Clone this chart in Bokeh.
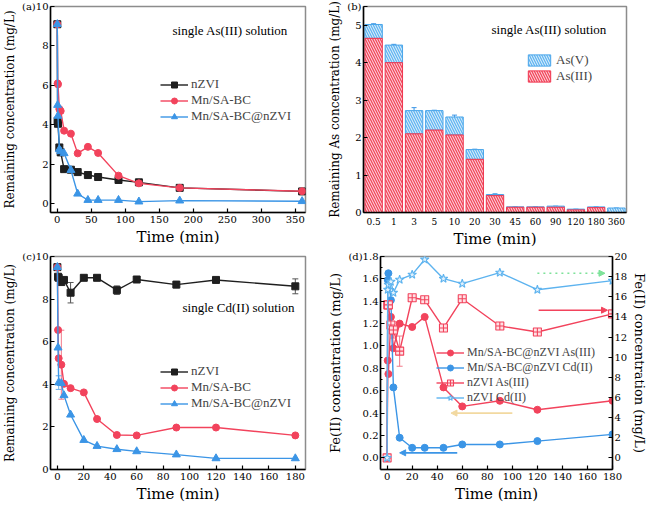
from bokeh.plotting import figure
from bokeh.models import (Range1d, LinearAxis, Label, Whisker, ColumnDataSource, Arrow,
                          NormalHead, FactorRange, TeeHead, FixedTicker)
from bokeh.layouts import column, row
from bokeh.embed import file_html
from bokeh.resources import INLINE

FONT = "Liberation Serif"
AXFONT = "DejaVu Serif"
BLACK = "#1f1f1f"
RED = "#f2435c"
BLUE = "#3b95e6"
LBLUE = "#5db3ef"

# ---------- (a) single As(III) solution ----------
t_a = [0, 0.5, 1, 3, 5, 10, 20, 30, 45, 60, 90, 120, 180, 360]
a_nzvi = [9.1, 4.2, 4.05, 2.85, 2.6, 1.75, 1.72, 1.6, 1.45, 1.35, 1.2, 1.08, 0.8, 0.62]
a_mn = [9.1, 6.1, 6.05, 4.8, 4.7, 3.7, 3.55, 2.55, 2.88, 2.57, 1.42, 1.03, 0.8, 0.63]
a_mnz = [9.1, 5.0, 4.45, 2.75, 2.65, 2.55, 1.7, 0.5, 0.18, 0.18, 0.18, 0.1, 0.15, 0.12]

# ---------- (b) As speciation ----------
b_times = ["0.5", "1", "3", "5", "10", "20", "30", "45", "60", "90", "120", "180", "360"]
b_as3 = [4.65, 4.0, 2.1, 2.2, 2.07, 1.42, 0.45, 0.14, 0.14, 0.14, 0.07, 0.13, 0.0]
b_as5 = [0.37, 0.47, 0.62, 0.52, 0.48, 0.26, 0.03, 0.01, 0.01, 0.03, 0.02, 0.02, 0.12]
b_err = [0.02, 0.02, 0.08, 0.01, 0.05, 0.01, 0.02, 0.0, 0.0, 0.0, 0.0, 0.0, 0.0]

# ---------- (c) single Cd(II) solution ----------
t_c = [0, 0.5, 1, 3, 5, 10, 20, 30, 45, 60, 90, 120, 180]
c_nzvi = [9.5, 9.05, 9.0, 8.8, 8.9, 8.3, 9.0, 9.0, 8.42, 8.92, 8.68, 8.9, 8.6]
c_nzvi_err = [0, 0, 0, 0.05, 0.05, 0.48, 0, 0, 0.2, 0.05, 0.15, 0, 0.35]
c_mn = [9.5, 6.55, 5.22, 4.92, 4.02, 3.82, 3.62, 2.37, 1.62, 1.6, 1.97, 1.97, 1.6]
c_mn_err = [0, 0, 0, 1.62, 0, 0, 0, 0, 0, 0, 0, 0, 0]
c_mnz = [9.5, 5.72, 4.08, 4.05, 3.48, 2.57, 1.38, 1.1, 0.95, 0.85, 0.7, 0.52, 0.52]
c_mnz_err = [0, 0, 0.32, 0, 0, 0, 0, 0, 0, 0, 0, 0, 0]

# ---------- (d) Fe(II) concentration ----------
t_d = [0, 0.5, 1, 3, 5, 10, 20, 30, 45, 60, 90, 120, 180]
d_mnz_as = [0.0, 0.87, 0.75, 1.26, 0.98, 1.2, 1.17, 1.26, 0.63, 0.46, 0.51, 0.43, 0.51]      # left axis
d_mnz_cd = [0.0, 1.59, 1.65, 1.41, 0.63, 0.18, 0.09, 0.09, 0.09, 0.12, 0.12, 0.15, 0.21]     # left axis
d_nzvi_as = [0.0, 15.2, 15.2, 13.2, 12.7, 10.6, 15.9, 15.7, 12.9, 15.8, 13.1, 12.5, 14.3]    # right axis
d_nzvi_as_err = [0, 0, 0, 0, 0.8, 1.5, 0, 0, 0, 0, 0, 0, 0]
d_nzvi_cd = [0.0, 16.7, 17.2, 17.5, 16.4, 17.7, 18.2, 19.7, 17.8, 17.3, 18.4, 16.7, 17.6]    # right axis

# arrows (left-axis units): x_start, x_end, y, colour, dash
arrows = [
    (120, 174, 1.65, "#7ee29a", "dotted"),
    (121, 176, 1.32, RED, "solid"),
    (100, 51, 0.40, "#f2d9a0", "solid"),
    (56, 10, 0.045, BLUE, "solid"),
]


def style(p, minor=False, ylab="12px"):
    p.outline_line_color = "#8c8c8c"
    p.outline_line_width = 1.5
    p.xgrid.visible = False
    p.ygrid.visible = False
    p.background_fill_color = "white"
    p.border_fill_color = "white"
    for ax in p.axis:
        ax.axis_line_width = 1.5
        ax.axis_line_color = "black"
        ax.major_tick_in = 4
        ax.major_tick_out = 0
        ax.major_tick_line_width = 1.2
        if minor:
            ax.minor_tick_in = 2
            ax.minor_tick_out = 0
        else:
            ax.minor_tick_line_color = None
        ax.major_label_text_font = AXFONT
        ax.major_label_text_font_size = "10px"
        ax.major_label_text_font_style = "normal"
        ax.major_label_text_color = "black"
        ax.axis_label_text_font = AXFONT
        ax.axis_label_text_font_size = ylab
        ax.axis_label_text_font_style = "normal"
        ax.axis_label_text_color = "black"
        ax.major_label_standoff = 2
        ax.axis_label_standoff = 2
    for ax in p.xaxis:
        ax.axis_label_text_font_size = "15px"
        ax.major_label_standoff = 3


def style_legend(lg, x, y, size="13px"):
    lg.location = (x, y)
    lg.background_fill_alpha = 0
    lg.border_line_color = None
    lg.label_text_font = FONT
    lg.label_text_font_size = size
    lg.label_height = 15
    lg.glyph_height = 15
    lg.glyph_width = 28
    lg.spacing = 0
    lg.padding = 2
    lg.margin = 0
    lg.label_standoff = 3


def note(p, text, x, y):
    p.add_layout(Label(x=x, y=y, x_units="screen", y_units="data", text=text,
                       text_font=FONT, text_font_size="13px", text_baseline="middle",
                       text_color="black"))


def errbars(p, x, y, e, color, **kw):
    xs = [xi for xi, ei in zip(x, e) if ei > 0]
    lo = [yi - ei for yi, ei in zip(y, e) if ei > 0]
    hi = [yi + ei for yi, ei in zip(y, e) if ei > 0]
    src = ColumnDataSource(dict(x=xs, lo=lo, hi=hi))
    p.add_layout(Whisker(source=src, base="x", lower="lo", upper="hi", line_color=color,
                         line_width=1,
                         upper_head=TeeHead(size=6, line_color=color, line_width=1),
                         lower_head=TeeHead(size=6, line_color=color, line_width=1), **kw))


# ================= (a) =================
pa = figure(width=325, height=250, x_range=Range1d(-10, 365), y_range=Range1d(-0.45, 10),
            output_backend="svg", toolbar_location=None,
            min_border_top=6, min_border_bottom=38, min_border_left=10, min_border_right=20)
pa.xaxis.axis_label = "Time (min)"
pa.yaxis.axis_label = "Remaining concentration (mg/L)"
pa.xaxis.ticker = FixedTicker(ticks=[0, 50, 100, 150, 200, 250, 300, 350])
pa.yaxis.ticker = FixedTicker(ticks=[0, 2, 4, 6, 8, 10])
pa.yaxis.major_label_overrides = {10: "(a)10"}
for ys, c, m, lab in [(a_nzvi, BLACK, "square", "nZVI"), (a_mn, RED, "circle", "Mn/SA-BC"),
                      (a_mnz, BLUE, "triangle", "Mn/SA-BC@nZVI")]:
    pa.line(t_a, ys, line_color=c, line_width=1.4, legend_label=lab)
    pa.scatter(t_a, ys, marker=m, size=7 if m != "triangle" else 8, color=c, legend_label=lab)
style(pa)
style_legend(pa.legend[0], 110, 88)
note(pa, "single As(III) solution", 122, 8.8)

# ================= (b) =================
tot = [a + b for a, b in zip(b_as3, b_as5)]
src_b = ColumnDataSource(dict(t=b_times, as3=b_as3, tot=tot,
                              lo=[v - e for v, e in zip(tot, b_err)],
                              hi=[v + e for v, e in zip(tot, b_err)]))
pb = figure(width=325, height=250, x_range=FactorRange(*b_times), y_range=Range1d(0, 5.5),
            output_backend="svg", toolbar_location=None,
            min_border_top=6, min_border_bottom=38, min_border_left=10, min_border_right=24)
pb.xaxis.axis_label = "Time (min)"
pb.yaxis.axis_label = "Remaining As concentration (mg/L)"
pb.yaxis.ticker = FixedTicker(ticks=[0, 1, 2, 3, 4, 5, 5.5])
pb.yaxis.major_label_overrides = {5.5: "(b)"}
pb.x_range.range_padding = 0.0
pb.vbar(x="t", bottom="as3", top="tot", width=0.86, source=src_b, fill_color="#62b5f0",
        line_color="#4aa6ea", line_width=1, hatch_pattern="\\", hatch_color="white",
        hatch_alpha=0.85, hatch_scale=5, hatch_weight=1, legend_label="As(V)")
pb.vbar(x="t", bottom=0, top="as3", width=0.86, source=src_b, fill_color="#f2465c",
        line_color="#f0364f", line_width=1, hatch_pattern="\\", hatch_color="white",
        hatch_alpha=0.85, hatch_scale=5, hatch_weight=1, legend_label="As(III)")
pb.add_layout(Whisker(source=src_b, base="t", lower="lo", upper="hi", line_color="#3b95e6",
                      upper_head=TeeHead(size=5, line_color="#3b95e6"),
                      lower_head=TeeHead(size=1, line_color=None)))
style(pb)
pb.xaxis.major_tick_line_color = None
pb.xaxis.major_label_standoff = 5
pb.xaxis.major_label_text_font_size = "9px"
style_legend(pb.legend[0], 162, 128)
pb.legend[0].glyph_height = 14
note(pb, "single As(III) solution", 128, 4.88)

# ================= (c) =================
pc = figure(width=325, height=255, x_range=Range1d(-5.2, 187.7), y_range=Range1d(0, 10),
            output_backend="svg", toolbar_location=None,
            min_border_top=6, min_border_bottom=36, min_border_left=10, min_border_right=20)
pc.xaxis.axis_label = "Time (min)"
pc.yaxis.axis_label = "Remaining concentration (mg/L)"
pc.xaxis.ticker = FixedTicker(ticks=list(range(0, 181, 20)))
pc.yaxis.ticker = FixedTicker(ticks=[0, 2, 4, 6, 8, 10])
pc.yaxis.major_label_overrides = {10: "(c)10"}
errbars(pc, t_c, c_nzvi, c_nzvi_err, "#555555")
errbars(pc, t_c, c_mn, c_mn_err, "#f27a8a")
errbars(pc, t_c, c_mnz, c_mnz_err, "#6aaee8")
for ys, c, m, lab in [(c_nzvi, BLACK, "square", "nZVI"), (c_mn, RED, "circle", "Mn/SA-BC"),
                      (c_mnz, BLUE, "triangle", "Mn/SA-BC@nZVI")]:
    pc.line(t_c, ys, line_color=c, line_width=1.4, legend_label=lab)
    pc.scatter(t_c, ys, marker=m, size=7 if m != "triangle" else 8, color=c, legend_label=lab)
style(pc)
style_legend(pc.legend[0], 110, 58)
note(pc, "single Cd(II) solution", 132, 7.6)

# ================= (d) =================
pd_ = figure(width=325, height=255, x_range=Range1d(-5.3, 180), y_range=Range1d(-0.104, 1.8),
             output_backend="svg", toolbar_location=None,
             min_border_top=6, min_border_bottom=36, min_border_left=10, min_border_right=0)
pd_.extra_y_ranges = {"right": Range1d(-1.156, 20)}
rax = LinearAxis(y_range_name="right", axis_label="Fe(II) concentration (mg/L)",
                 ticker=FixedTicker(ticks=list(range(0, 21, 2))))
pd_.add_layout(rax, "right")
pd_.xaxis.axis_label = "Time (min)"
pd_.yaxis[0].axis_label = "Fe(II) concentration (mg/L)"
pd_.xaxis.ticker = FixedTicker(ticks=list(range(0, 181, 20)))
pd_.yaxis[0].ticker = FixedTicker(ticks=[0, 0.2, 0.4, 0.6, 0.8, 1.0, 1.2, 1.4, 1.6, 1.8],
                                  minor_ticks=[i / 10 for i in range(0, 19)])
pd_.yaxis[0].major_label_overrides = {0: "0.0", 1: "1.0", 1.8: "(d)1.8"}
for xs, xe, y, c, dash in arrows:
    pd_.add_layout(Arrow(x_start=xs, x_end=xe, y_start=y, y_end=y, line_color=c, line_width=1.6,
                         line_dash=dash,
                         end=NormalHead(size=6, fill_color=c, line_color=c)))
errbars(pd_, t_d, d_nzvi_as, d_nzvi_as_err, "#f27a8a", y_range_name="right")
pd_.line(t_d, d_mnz_as, line_color=RED, line_width=1.4, legend_label="Mn/SA-BC@nZVI As(III)")
pd_.scatter(t_d, d_mnz_as, marker="circle", size=7, color=RED, legend_label="Mn/SA-BC@nZVI As(III)")
pd_.line(t_d, d_mnz_cd, line_color=BLUE, line_width=1.4, legend_label="Mn/SA-BC@nZVI Cd(II)")
pd_.scatter(t_d, d_mnz_cd, marker="circle", size=7, color=BLUE, legend_label="Mn/SA-BC@nZVI Cd(II)")
pd_.line(t_d, d_nzvi_as, line_color=RED, line_width=1.4, y_range_name="right", legend_label="nZVI As(III)")
pd_.scatter(t_d, d_nzvi_as, marker="square_cross", size=8, line_color=RED, fill_color="#ffe0e4",
            line_width=1.1, y_range_name="right", legend_label="nZVI As(III)")
pd_.line(t_d, d_nzvi_cd, line_color=LBLUE, line_width=1.4, y_range_name="right", legend_label="nZVI Cd(II)")
pd_.scatter(t_d, d_nzvi_cd, marker="star", size=9, line_color=LBLUE, fill_color="#dff0fc",
            line_width=1.1, y_range_name="right", legend_label="nZVI Cd(II)")
style(pd_, minor=True, ylab="13px")
style_legend(pd_.legend[0], 56, 64, size="12px")

layout = column(row(pa, pb), row(pc, pd_))
open("out.html", "w").write(file_html(layout, INLINE))
